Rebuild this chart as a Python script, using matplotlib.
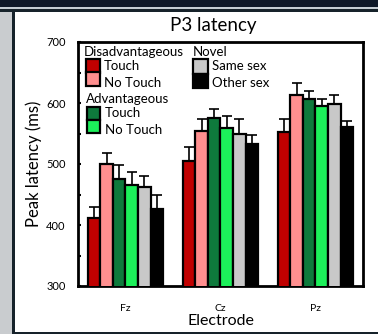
import matplotlib
matplotlib.use("Agg")
import matplotlib.pyplot as plt
from matplotlib.patches import Rectangle
from matplotlib.ticker import MultipleLocator
import numpy as np

# Datos (ms)
electrodes = ["Fz", "Cz", "Pz"]

dis_touch = [412, 505, 553]
dis_notouch = [500, 554, 613]
adv_touch = [475, 575, 606]
adv_notouch = [466, 559, 595]
same_sex = [462, 550, 598]
other_sex = [426, 532, 560]

dis_touch_se = [18, 23, 20]
dis_notouch_se = [18, 20, 20]
adv_touch_se = [24, 15, 13]
adv_notouch_se = [21, 20, 11]
same_sex_se = [19, 24, 15]
other_sex_se = [23, 15, 11]

series = [dis_touch, dis_notouch, adv_touch, adv_notouch, same_sex, other_sex]
errors = [dis_touch_se, dis_notouch_se, adv_touch_se, adv_notouch_se, same_sex_se, other_sex_se]
colors = ["#c00000", "#ff8f8f", "#0e7a3c", "#1cf05a", "#c8c8c8", "#000000"]

W, H = 378, 334
plt.rcParams["font.family"] = ["Lato", "DejaVu Sans"]

fig = plt.figure(figsize=(W / 100, H / 100), dpi=100, facecolor="white")


def fx(x):
    return x / W


def fy(y):
    return 1 - y / H


def fig_rect(x0, y0, x1, y1, color):
    fig.patches.append(Rectangle((fx(x0), fy(y1)), fx(x1 - x0), (y1 - y0) / H,
                                 transform=fig.transFigure, facecolor=color,
                                 edgecolor="none", zorder=0))


# fondo de la diapositiva
fig_rect(0, 0, W, 7, "#0e1828")
fig_rect(0, 7, W, 9, "#c4ccd2")
fig_rect(0, 9, W, 12, "#16222a")
fig_rect(0, 12, 12, H, "#c9cccf")
fig_rect(12, 9, 15, H, "#16222a")
fig_rect(12, H - 2, W, H, "#16222a")

ax = fig.add_axes([fx(78), fy(286), fx(363) - fx(78), fy(42) - fy(286)])

x = np.arange(len(electrodes))
width = 0.132
for k, (vals, se, col) in enumerate(zip(series, errors, colors)):
    pos = x + (k - 2.5) * width
    ax.errorbar(pos, vals, yerr=[np.zeros(len(se)), se], fmt="none",
                ecolor="black", elinewidth=1.2, capsize=3.5, capthick=1.2, zorder=2)
    ax.bar(pos, vals, width, color=col, edgecolor="black", linewidth=1.6, zorder=3)

ax.set_xlim(-0.5, 2.5)
ax.set_ylim(300, 700)
ax.set_xticks(x)
ax.set_xticklabels(electrodes, fontsize=7.5)
ax.tick_params(axis="x", length=0, pad=13)
ax.yaxis.set_major_locator(MultipleLocator(100))
ax.yaxis.set_minor_locator(MultipleLocator(50))
ax.tick_params(axis="y", which="both", direction="in", length=2.5, width=1.5,
               labelsize=8, pad=9)
for s in ax.spines.values():
    s.set_linewidth(2)

ax.set_ylabel("Peak latency (ms)", fontsize=12, labelpad=3)
ax.set_xlabel("Electrode", fontsize=11.5, labelpad=1)
fig.text(fx(213), fy(25), "P3 latency", fontsize=13.5, ha="center", va="center")

# leyenda hecha a mano (coordenadas en pixeles de la figura)
fs = 9.5


def swatch(x0, y0, x1, y1, col):
    fig.patches.append(Rectangle((fx(x0), fy(y1)), fx(x1 - x0), (y1 - y0) / H,
                                 transform=fig.transFigure, facecolor=col,
                                 edgecolor="black", linewidth=1.6, zorder=5))


fig.text(fx(84), fy(52), "Disadvantageous", fontsize=fs, va="center")
swatch(86, 59, 100, 72.5, colors[0])
swatch(86, 72.5, 100, 86, colors[1])
fig.text(fx(104), fy(66), "Touch", fontsize=fs, va="center")
fig.text(fx(104), fy(83), "No Touch", fontsize=fs, va="center")

fig.text(fx(86), fy(99), "Advantageous", fontsize=fs, va="center")
swatch(87, 107, 100, 120, colors[2])
swatch(87, 120, 100, 133, colors[3])
fig.text(fx(105), fy(113), "Touch", fontsize=fs, va="center")
fig.text(fx(105), fy(130), "No Touch", fontsize=fs, va="center")

fig.text(fx(193), fy(52), "Novel", fontsize=fs, va="center")
swatch(193, 59, 208, 73.5, colors[4])
swatch(193, 73.5, 208, 88, colors[5])
fig.text(fx(212), fy(66), "Same sex", fontsize=fs, va="center")
fig.text(fx(212), fy(83), "Other sex", fontsize=fs, va="center")

fig.savefig("out.png", dpi=100, facecolor=fig.get_facecolor())
